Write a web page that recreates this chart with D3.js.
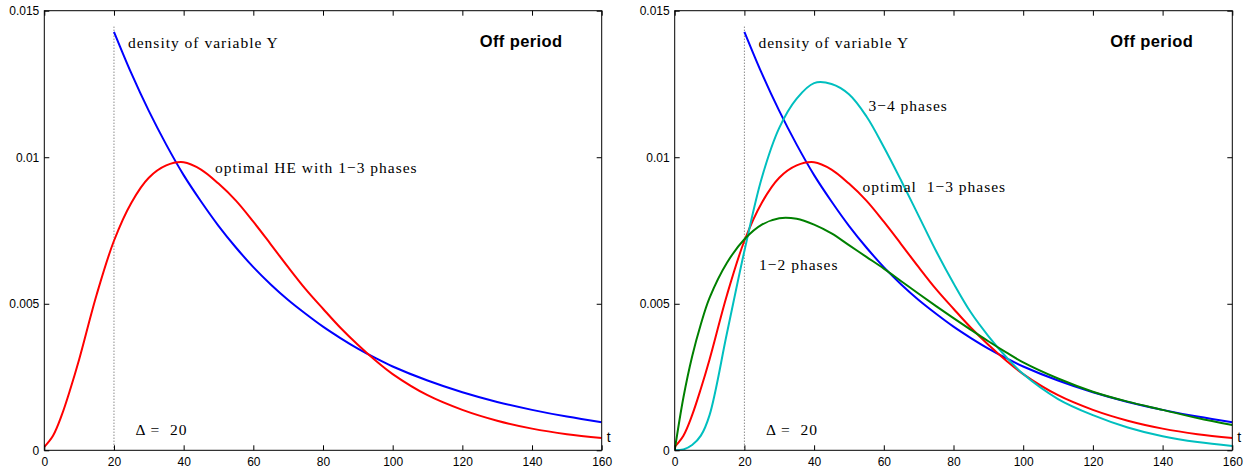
<!DOCTYPE html>
<html>
<head>
<meta charset="utf-8">
<script src="https://cdn.jsdelivr.net/npm/d3@7"></script>
<style>
  body { margin: 0; background: #fff; }
  svg { display: block; }
  .tick text { font-family: "Liberation Sans", Arial, sans-serif; font-size: 12px; fill: #000; }
  .tick line { stroke: #000; }
  .note { font-family: "Liberation Serif", "Times New Roman", serif; font-size: 15.5px; letter-spacing: 1px; fill: #000; white-space: pre; }
  .title { font-family: "Liberation Sans", Arial, sans-serif; font-size: 16.5px; letter-spacing: 0.4px; font-weight: bold; fill: #000; }
  .tlabel { font-family: "Liberation Sans", Arial, sans-serif; font-size: 14px; fill: #000; }
</style>
</head>
<body>
<svg id="viz" width="1256" height="472"></svg>
<script>
// sample points (t) shared by all curves
const tValues = [0, 2.5, 5, 7.5, 10, 15, 20, 25, 30, 35, 40, 45, 50, 55, 60, 65, 70, 75, 80, 85, 90, 95, 100, 110, 120, 130, 140, 150, 160];

// density of variable Y (starts at delta = 20)
const densityY = [null, null, null, null, null, null, 0.01428, 0.01286, 0.01158, 0.01043, 0.00939, 0.00849, 0.00766, 0.00692, 0.00625, 0.00566, 0.00513, 0.00466, 0.00422, 0.00383, 0.00347, 0.00315, 0.00286, 0.00238, 0.00198, 0.00165, 0.00138, 0.00115, 0.00096];
// optimal HE with 1-3 phases
const phases13 = [0.00012, 0.0005, 0.0012, 0.0021, 0.0031, 0.0053, 0.00715, 0.00845, 0.0093, 0.00972, 0.00983, 0.00958, 0.0091, 0.00852, 0.0078, 0.00703, 0.00625, 0.0055, 0.00483, 0.00418, 0.0036, 0.00307, 0.0026, 0.00188, 0.00138, 0.00101, 0.00074, 0.00055, 0.00042];
// 3-4 phases
const phases34 = [0, 0.00003, 0.00018, 0.0005, 0.0012, 0.0040, 0.0068, 0.0093, 0.0110, 0.0120, 0.01253, 0.0125, 0.01215, 0.0114, 0.01035, 0.0092, 0.0080, 0.0068, 0.0057, 0.0047, 0.0039, 0.0032, 0.0026, 0.00175, 0.0012, 0.00078, 0.00048, 0.00028, 0.00015];
// 1-2 phases
const phases12 = [0, 0.0018, 0.0032, 0.0043, 0.0052, 0.0064, 0.0072, 0.0077, 0.00792, 0.0079, 0.0077, 0.0074, 0.0070, 0.0066, 0.0062, 0.00577, 0.00534, 0.00492, 0.00451, 0.00411, 0.00372, 0.00335, 0.0030, 0.00245, 0.0020, 0.00166, 0.00138, 0.0011, 0.00086];

const xTicks = [0, 20, 40, 60, 80, 100, 120, 140, 160];
const yTicks = [0, 0.005, 0.01, 0.015];
const yTickLabels = ["0", "0.005", "0.01", "0.015"];
const delta = 20;

const svg = d3.select("#viz");

function drawPanel(x0, x1, series, labels) {
	let x = d3.scaleLinear().domain([0, 160]).range([x0, x1]);
	let y = d3.scaleLinear().domain([0, 0.015]).range([450.3, 10.7]);
	let g = svg.append("g");

	let clipId = "clip" + Math.round(x0);
	g.append("clipPath").attr("id", clipId)
		.append("rect")
		.attr("x", x0).attr("y", y(0.015))
		.attr("width", x1 - x0).attr("height", y(0) - y(0.015));

	// dotted line at delta
	g.append("line")
		.attr("x1", x(delta)).attr("x2", x(delta))
		.attr("y1", 26.7).attr("y2", y(0))
		.attr("stroke", "#555")
		.attr("stroke-width", 1)
		.attr("stroke-dasharray", "1,2");

	let line = d3.line()
		.defined(d => d[1] !== null)
		.x(d => x(d[0]))
		.y(d => y(d[1]))
		.curve(d3.curveCatmullRom.alpha(0.5));

	series.forEach(s => {
		g.append("path")
			.datum(tValues.map((t, i) => [t, s.values[i]]))
			.attr("d", line)
			.attr("fill", "none")
			.attr("stroke", s.color)
			.attr("stroke-width", 2)
			.attr("clip-path", "url(#" + clipId + ")");
	});

	// axes, ticks inside on every side
	g.append("g").attr("transform", "translate(0," + y(0) + ")")
		.call(d3.axisBottom(x).tickValues(xTicks).tickSizeInner(-5).tickSizeOuter(0).tickPadding(7).tickFormat(d3.format("d")));
	g.append("g").attr("transform", "translate(0," + y(0.015) + ")")
		.call(d3.axisTop(x).tickValues(xTicks).tickSizeInner(-5).tickSizeOuter(0).tickFormat(""));
	g.append("g").attr("transform", "translate(" + x0 + ",0)")
		.call(d3.axisLeft(y).tickValues(yTicks).tickSizeInner(-5).tickSizeOuter(0).tickPadding(5)
			.tickFormat((d, i) => yTickLabels[i]));
	g.append("g").attr("transform", "translate(" + x1 + ",0)")
		.call(d3.axisRight(y).tickValues(yTicks).tickSizeInner(-5).tickSizeOuter(0).tickFormat(""));
	g.selectAll(".domain").remove();

	g.append("rect")
		.attr("x", x0).attr("y", y(0.015))
		.attr("width", x1 - x0).attr("height", y(0) - y(0.015))
		.attr("fill", "none").attr("stroke", "#000").attr("stroke-width", 1);

	g.append("text").attr("class", "note").attr("x", x(20) + 14).attr("y", 47.5).text("density of variable Y");
	g.append("text").attr("class", "title").attr("x", x1 - 122).attr("y", 47).text("Off period");
	g.append("text").attr("class", "note").attr("x", x(26.2)).attr("y", 435).text("\u0394 =  20");
	g.append("text").attr("class", "tlabel").attr("x", x1 + 5).attr("y", 442).text("t");

	labels.forEach(l => {
		g.append("text").attr("class", "note").attr("x", x(l.t)).attr("y", y(l.v)).text(l.text);
	});
}

drawPanel(44.3, 601.7, [
	{values: densityY, color: "#0000ff"},
	{values: phases13, color: "#ff0000"}
], [
	{t: 49, v: 0.00945, text: "optimal HE with 1\u22123 phases"}
]);

drawPanel(674.7, 1232.3, [
	{values: densityY, color: "#0000ff"},
	{values: phases13, color: "#ff0000"},
	{values: phases34, color: "#00bfbf"},
	{values: phases12, color: "#008000"}
], [
	{t: 55.6, v: 0.01159, text: "3\u22124 phases"},
	{t: 53.9, v: 0.00883, text: "optimal  1\u22123 phases"},
	{t: 24.2, v: 0.00615, text: "1\u22122 phases"}
]);
</script>
</body>
</html>
